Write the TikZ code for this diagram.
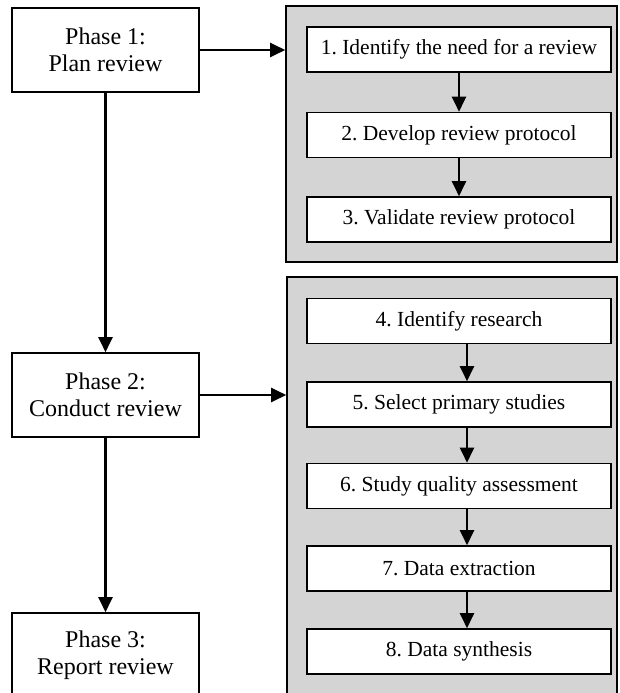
\documentclass[tikz,border=0pt]{standalone}
\usepackage{fontspec}
\setmainfont{Liberation Serif}
\usetikzlibrary{arrows.meta}
\definecolor{panelgray}{RGB}{212,212,212}
\frenchspacing
\tikzset{
  phase/.style={draw, line width=1.6pt, fill=white, minimum width=187pt, minimum height=84pt,
    align=center, inner sep=0pt, font=\fontsize{24}{27}\selectfont},
  panel/.style={draw, line width=1.6pt, fill=panelgray, inner sep=0pt},
  task/.style={draw, line width=1.6pt, fill=white, minimum width=304pt, minimum height=45pt,
    inner sep=0pt, font=\fontsize{21.5}{24}\selectfont},
  flow/.style={line width=2.2pt, -{Triangle[length=15pt,width=14pt]}}
}
\begin{document}
\begin{tikzpicture}[x=1pt, y=-1pt]
			%%%%% START %%%%%
			\useasboundingbox (0, 0) rectangle (619, 693);
			
			\node[phase] (ph1) at (105.5, 50) {Phase 1:\\Plan review};
			\node[phase] (ph2) at (105.5, 395) {Phase 2:\\Conduct review};
			\node[phase] (ph3) at (105.5, 655) {Phase 3:\\Report review};
			
			\node[panel, minimum width=331pt, minimum height=256pt] (plan) at (451.5, 134) {};
			\node[panel, minimum width=330pt, minimum height=423pt] (conduct) at (452, 488.5) {};
			
			\node[task] (t1) at (459, 49.5) {1. Identify the need for a review};
			\node[task] (t2) at (459, 135) {2. Develop review protocol};
			\node[task] (t3) at (459, 219.5) {3. Validate review protocol};
			
			\node[task] (t4) at (459, 321) {4. Identify research};
			\node[task] (t5) at (459, 404.5) {5. Select primary studies};
			\node[task] (t6) at (459, 486) {6. Study quality assessment};
			\node[task] (t7) at (459, 568.5) {7. Data extraction};
			\node[task] (t8) at (459, 651.5) {8. Data synthesis};
			
			\draw[flow] (ph1) -- (ph2);
			\draw[flow] (ph2) -- (ph3);
			\draw[flow] (ph1.east) -- (ph1.east -| plan.west);
			\draw[flow] (ph2.east) -- (ph2.east -| conduct.west);
			
			\foreach \a/\b in {t1/t2, t2/t3}
				\draw[flow] (\a) -- (\b);
			% second panel: arrows a little right of centre
			\foreach \a/\b in {t4/t5, t5/t6, t6/t7, t7/t8}
				\draw[flow] ([xshift=8pt]\a.south) -- ([xshift=8pt]\b.north);
			%%%%% END %%%%%
\end{tikzpicture}
\end{document}
